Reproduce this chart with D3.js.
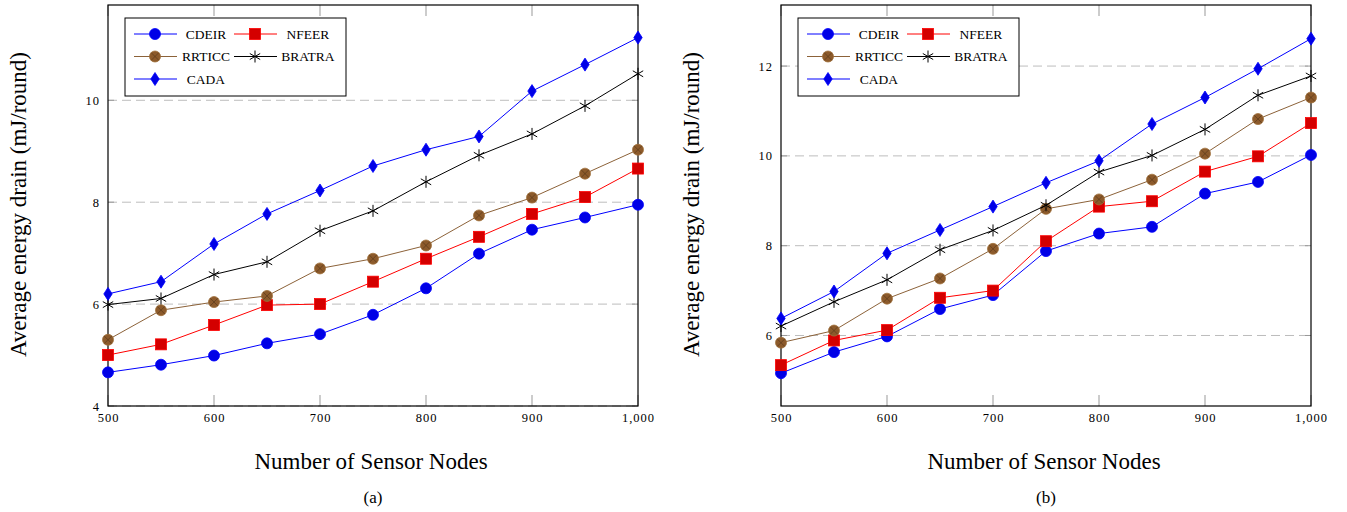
<!DOCTYPE html>
<html>
<head>
<meta charset="utf-8">
<script src="https://cdn.jsdelivr.net/npm/d3@7"></script>
<style>
body { margin: 0; background: #fff; }
svg { display: block; }
</style>
</head>
<body>
<script>
// x values (number of sensor nodes)
var nodes = [500, 550, 600, 650, 700, 750, 800, 850, 900, 950, 1000];
var xTicks = [500, 600, 700, 800, 900, 1000];
var seriesNames = ["CDEIR", "NFEER", "RRTICC", "BRATRA", "CADA"];

// panel (a)
var aCDEIR  = [4.66, 4.81, 4.99, 5.23, 5.41, 5.79, 6.31, 6.99, 7.46, 7.70, 7.95];
var aNFEER  = [5.00, 5.21, 5.59, 5.98, 6.00, 6.44, 6.89, 7.32, 7.77, 8.10, 8.66];
var aRRTICC = [5.30, 5.88, 6.04, 6.16, 6.70, 6.89, 7.15, 7.74, 8.09, 8.56, 9.03];
var aBRATRA = [5.99, 6.11, 6.58, 6.83, 7.44, 7.83, 8.40, 8.92, 9.34, 9.89, 10.52];
var aCADA   = [6.20, 6.44, 7.18, 7.77, 8.23, 8.71, 9.03, 9.29, 10.18, 10.70, 11.23];
var aYTicks = [4, 6, 8, 10];

// panel (b)
var bCDEIR  = [5.16, 5.63, 5.98, 6.59, 6.90, 7.88, 8.27, 8.42, 9.16, 9.42, 10.02];
var bNFEER  = [5.34, 5.89, 6.12, 6.84, 7.00, 8.10, 8.87, 8.99, 9.65, 9.99, 10.73];
var bRRTICC = [5.84, 6.11, 6.82, 7.27, 7.93, 8.82, 9.03, 9.47, 10.05, 10.82, 11.30];
var bBRATRA = [6.21, 6.75, 7.24, 7.91, 8.34, 8.90, 9.64, 10.01, 10.59, 11.35, 11.78];
var bCADA   = [6.38, 6.98, 7.83, 8.35, 8.87, 9.40, 9.89, 10.71, 11.30, 11.94, 12.61];
var bYTicks = [6, 8, 10, 12];

var styles = {
  CDEIR:  { line: "#0000ff", mark: "circle" },
  NFEER:  { line: "#ff0000", mark: "square" },
  RRTICC: { line: "#8c6239", mark: "otimes" },
  BRATRA: { line: "#000000", mark: "star" },
  CADA:   { line: "#0000ff", mark: "diamond" }
};

var SERIF = "'Liberation Serif', 'Times New Roman', Times, 'DejaVu Serif', serif";

var svg = d3.select("body").append("svg").attr("width", 1347).attr("height", 512)
  .style("font-family", SERIF);

function drawMark(g, type, x, y) {
  if (type == "circle") {
    g.append("circle").attr("cx", x).attr("cy", y).attr("r", 5.5)
      .attr("fill", "#0000e6").attr("stroke", "#0000ff").attr("stroke-width", 0.8);
  } else if (type == "square") {
    g.append("rect").attr("x", x - 5.5).attr("y", y - 5.5).attr("width", 11).attr("height", 11)
      .attr("fill", "#d40000").attr("stroke", "#ff0000").attr("stroke-width", 0.8);
  } else if (type == "otimes") {
    g.append("circle").attr("cx", x).attr("cy", y).attr("r", 5.5)
      .attr("fill", "#8c5a2b").attr("stroke", "#a0703a").attr("stroke-width", 0.8);
    var d = 3.9;
    g.append("path").attr("d", "M" + (x - d) + "," + (y - d) + "L" + (x + d) + "," + (y + d) +
        "M" + (x - d) + "," + (y + d) + "L" + (x + d) + "," + (y - d))
      .attr("stroke", "#5a3a1a").attr("stroke-width", 0.7);
  } else if (type == "star") {
    var p = "";
    for (var k = 0; k < 3; k++) {
      var a = Math.PI / 2 + k * Math.PI / 3;
      p += "M" + (x + 6 * Math.cos(a)) + "," + (y - 6 * Math.sin(a)) +
           "L" + (x - 6 * Math.cos(a)) + "," + (y + 6 * Math.sin(a));
    }
    g.append("path").attr("d", p).attr("stroke", "#000").attr("stroke-width", 1);
  } else if (type == "diamond") {
    g.append("path").attr("d", "M" + x + "," + (y - 6.5) + "L" + (x + 4.2) + "," + y +
        "L" + x + "," + (y + 6.5) + "L" + (x - 4.2) + "," + y + "Z")
      .attr("fill", "#0000e6").attr("stroke", "#0000ff").attr("stroke-width", 0.8);
  }
}

function panel(left, yDomain, yTicks, data, letter) {
  var top = 5, bottom = 406, width = 530;
  var x = d3.scaleLinear().domain([500, 1000]).range([left, left + width]);
  var y = d3.scaleLinear().domain(yDomain).range([bottom, top]);
  var g = svg.append("g");

  // grid
  g.selectAll("line.grid").data(yTicks).enter().append("line")
    .attr("x1", left).attr("x2", left + width)
    .attr("y1", function (d) { return y(d); }).attr("y2", function (d) { return y(d); })
    .attr("stroke", "#bdbdbd").attr("stroke-width", 1).attr("stroke-dasharray", "9,5");

  // x ticks (bottom + top, inside)
  var fmt = d3.format(",");
  var xa = d3.axisBottom(x).tickValues(xTicks).tickSize(0).tickFormat(fmt);
  var xg = g.append("g").attr("transform", "translate(0," + bottom + ")").call(xa)
    .attr("font-family", null).attr("font-size", null);
  xg.select(".domain").remove();
  xg.selectAll("text").attr("dy", 0).attr("y", 16).style("font-size", "12.5px")
    .attr("letter-spacing", 1).attr("fill", "#000").style("font-family", SERIF);
  g.selectAll("line.xt").data(xTicks).enter().append("line")
    .attr("x1", function (d) { return x(d); }).attr("x2", function (d) { return x(d); })
    .attr("y1", bottom).attr("y2", bottom - 11).attr("stroke", "#999");
  g.selectAll("line.xt2").data(xTicks).enter().append("line")
    .attr("x1", function (d) { return x(d); }).attr("x2", function (d) { return x(d); })
    .attr("y1", top).attr("y2", top + 11).attr("stroke", "#999");

  // y ticks
  var ya = d3.axisLeft(y).tickValues(yTicks).tickSize(0);
  var yg = g.append("g").attr("transform", "translate(" + left + ",0)").call(ya)
    .attr("font-family", null).attr("font-size", null);
  yg.select(".domain").remove();
  yg.selectAll("text").attr("x", -8).style("font-size", "12.5px").attr("letter-spacing", 1)
    .attr("fill", "#000").style("font-family", SERIF);
  g.selectAll("line.yt").data(yTicks).enter().append("line")
    .attr("x1", left).attr("x2", left + 6)
    .attr("y1", function (d) { return y(d); }).attr("y2", function (d) { return y(d); })
    .attr("stroke", "#999");
  g.selectAll("line.yt2").data(yTicks).enter().append("line")
    .attr("x1", left + width).attr("x2", left + width - 6)
    .attr("y1", function (d) { return y(d); }).attr("y2", function (d) { return y(d); })
    .attr("stroke", "#999");

  // frame
  g.append("rect").attr("x", left).attr("y", top).attr("width", width).attr("height", bottom - top)
    .attr("fill", "none").attr("stroke", "#000").attr("stroke-width", 1.2);

  // series
  var line = d3.line().x(function (d, i) { return x(nodes[i]); }).y(function (d) { return y(d); });
  seriesNames.forEach(function (name) {
    var vals = data[name];
    var st = styles[name];
    g.append("path").datum(vals).attr("d", line).attr("fill", "none")
      .attr("stroke", st.line).attr("stroke-width", 1);
    vals.forEach(function (v, i) { drawMark(g, st.mark, x(nodes[i]), y(v)); });
  });

  // legend
  var lx = left + 17, ly = 18;
  var lg = g.append("g");
  lg.append("rect").attr("x", lx).attr("y", ly).attr("width", 221).attr("height", 78)
    .attr("fill", "#fff").attr("stroke", "#000").attr("stroke-width", 1);
  seriesNames.forEach(function (name, i) {
    var col = i % 2, row = Math.floor(i / 2);
    var ox = lx + col * 100, oy = ly + 16 + row * 22.5;
    var st = styles[name];
    lg.append("line").attr("x1", ox + 9).attr("x2", ox + 52).attr("y1", oy).attr("y2", oy)
      .attr("stroke", name == "CADA" ? "#5555ff" : st.line).attr("stroke-width", name == "CADA" ? 1.5 : 1);
    drawMark(lg, st.mark, ox + 30, oy);
    lg.append("text").attr("x", ox + 81 + col * 2).attr("y", oy + 4.5).attr("text-anchor", "middle")
      .style("font-size", "13.5px").style("font-family", SERIF).text(name);
  });

  // axis titles
  svg.append("text").attr("x", left + width / 2 - 2).attr("y", 469).attr("text-anchor", "middle")
    .style("font-size", "23px").style("font-family", SERIF).text("Number of Sensor Nodes");
  svg.append("text").attr("x", left + width / 2).attr("y", 503).attr("text-anchor", "middle")
    .style("font-size", "17px").style("font-family", SERIF).text("(" + letter + ")");
  svg.append("text").attr("transform", "translate(" + (left - 82) + "," + ((top + bottom) / 2 - 1) + ") rotate(-90)")
    .attr("text-anchor", "middle").style("font-size", "23px").style("font-family", SERIF)
    .text("Average energy drain (mJ/round)");
}

panel(108, [4, 11.87], aYTicks,
  { CDEIR: aCDEIR, NFEER: aNFEER, RRTICC: aRRTICC, BRATRA: aBRATRA, CADA: aCADA }, "a");
panel(781, [4.43, 13.36], bYTicks,
  { CDEIR: bCDEIR, NFEER: bNFEER, RRTICC: bRRTICC, BRATRA: bBRATRA, CADA: bCADA }, "b");
</script>
</body>
</html>
